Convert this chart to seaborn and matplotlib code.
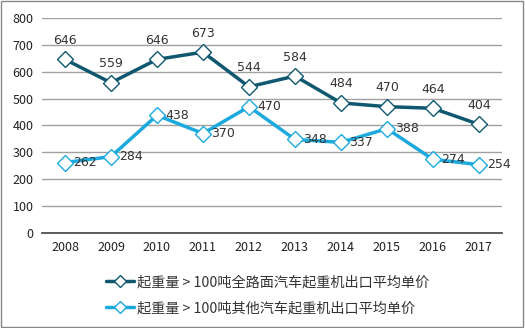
import matplotlib
matplotlib.use("Agg")
import matplotlib.pyplot as plt
from matplotlib.lines import Line2D
import seaborn as sns
import pandas as pd

years = ["2008", "2009", "2010", "2011", "2012", "2013", "2014", "2015", "2016", "2017"]
series1_name = "起重量 > 100吨全路面汽车起重机出口平均单价"
series2_name = "起重量 > 100吨其他汽车起重机出口平均单价"
series1 = [646, 559, 646, 673, 544, 584, 484, 470, 464, 404]
series2 = [262, 284, 438, 370, 470, 348, 337, 388, 274, 254]

sns.set_theme(style="white")
plt.rcParams['font.family'] = ['Noto Sans CJK SC', 'DejaVu Sans']

df = pd.DataFrame({
    "year": years * 2,
    "value": series1 + series2,
    "series": [series1_name] * len(years) + [series2_name] * len(years),
})

c1 = "#0F5870"
c2 = "#1CAADE"

fig = plt.figure(figsize=(5.25, 3.28), dpi=100)
ax = fig.add_axes([0.08, 0.29, 0.876, 0.655])
sns.lineplot(data=df, x="year", y="value", hue="series", palette=[c1, c2],
             marker="D", markersize=8, markerfacecolor="white", markeredgewidth=1.0,
             linewidth=2.5, ax=ax, sort=False, legend=False)

for line, col in zip(ax.get_lines()[:2], [c1, c2]):
    line.set_markeredgecolor(col)

ax.set_ylim(0, 800)
ax.set_xlim(-0.5, 9.5)
ax.set_yticks(range(0, 801, 100))
ax.yaxis.grid(True, color="#A0A0A0", linewidth=1)
ax.set_axisbelow(True)
for s in ["left", "right", "top"]:
    ax.spines[s].set_visible(False)
ax.spines["bottom"].set_color("#404040")
ax.spines["bottom"].set_linewidth(1.2)
ax.set_xlabel("")
ax.set_ylabel("")
ax.tick_params(axis="both", labelsize=9, colors="#222222", length=0, pad=6)

for i, v in enumerate(series1):
    ax.annotate(str(v), (i, v), xytext=(0, 9), textcoords="offset points",
                ha="center", va="bottom", fontsize=9, color="#333333", family="DejaVu Sans")
for i, v in enumerate(series2):
    ax.annotate(str(v), (i, v), xytext=(6, 0), textcoords="offset points",
                ha="left", va="center", fontsize=9, color="#333333", family="DejaVu Sans")

handles = [Line2D([], [], color=c, linewidth=2.5, marker="D", markersize=6,
                  markerfacecolor="white", markeredgecolor=c) for c in [c1, c2]]
leg = ax.legend(handles, [series1_name, series2_name], loc="upper center",
                bbox_to_anchor=(0.49, -0.17), ncol=1, frameon=False,
                fontsize=10.2, handlelength=2.0, handletextpad=0.2, labelspacing=0.85,
                borderaxespad=0)
for t in leg.get_texts():
    t.set_color("#333333")

fig.patches.append(plt.Rectangle((0.002, 0.003), 0.995, 0.994, transform=fig.transFigure,
                                 fill=False, edgecolor="#888888", linewidth=1))
fig.savefig("out.png", dpi=100)
